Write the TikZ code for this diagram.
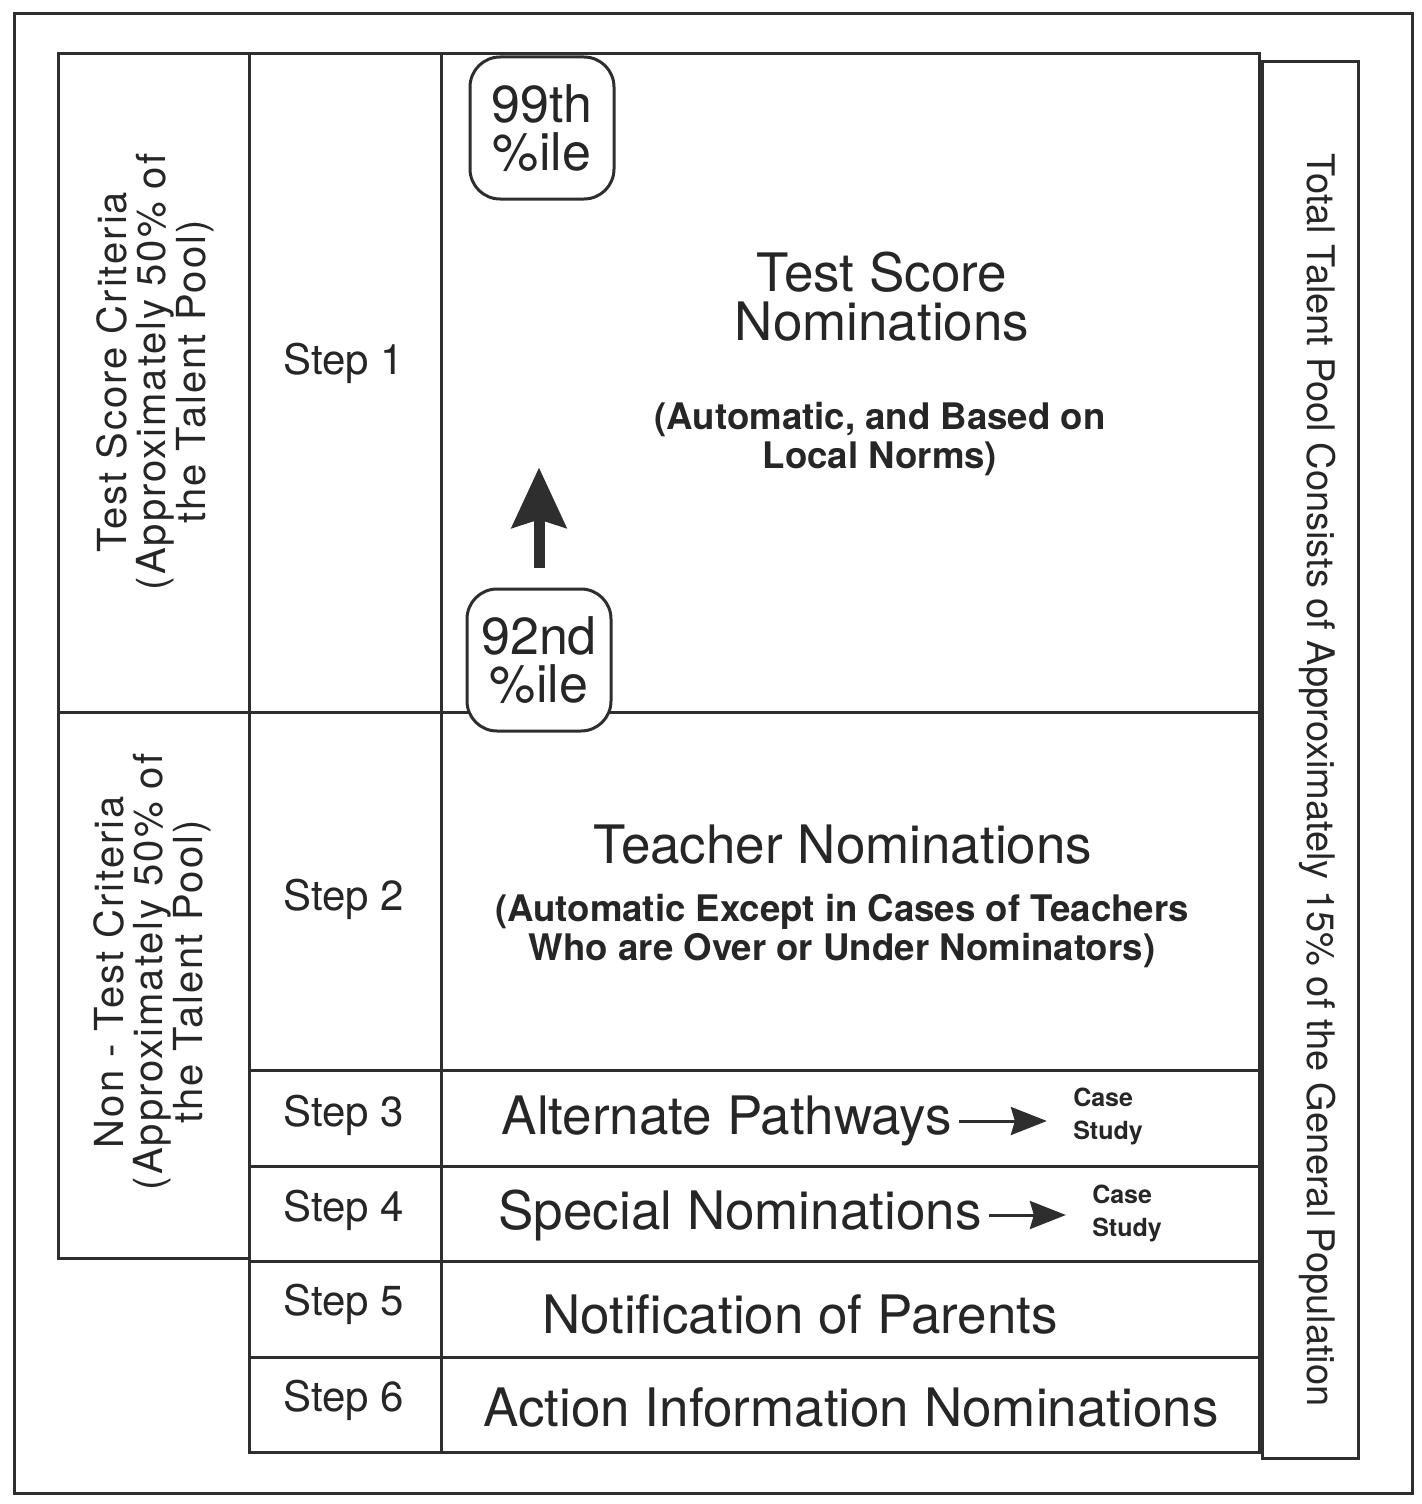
\documentclass[tikz,border=0pt]{standalone}
\usepackage{fontspec}
\setmainfont{TeX Gyre Heros}
\usetikzlibrary{arrows.meta}

\begin{document}
\begin{tikzpicture}[
  x=0.5pt, y=-0.5pt,
  frame/.style={draw=black!82, line width=1.5pt},
  steplabel/.style={text=black!85, font=\fontsize{21}{24}\selectfont},
  title/.style={text=black!85, align=center, font=\fontsize{26.5}{24.5}\selectfont},
  remark/.style={text=black!85, align=center, font=\bfseries\fontsize{18.3}{19.5}\selectfont},
  casenote/.style={text=black!85, align=left, inner sep=2pt, font=\bfseries\fontsize{12.5}{16.5}\selectfont},
  pct/.style={frame, fill=white, rounded corners=15pt, minimum width=72pt, minimum height=71pt,
    align=center, text=black!85, font=\fontsize{26}{24}\selectfont},
  side/.style={text=black!85, align=center, font=\fontsize{20}{19.8}\selectfont\addfontfeatures{LetterSpace=5}},
  uparrow/.style={-{Stealth[length=30pt, width=27pt, inset=4pt]}, line width=5.5pt, draw=black!82},
  casearrow/.style={-{Stealth[length=18pt, width=14pt, inset=2pt]}, line width=1.5pt, draw=black!82}
]
\useasboundingbox (0,0) rectangle (1421,1504);

% frame and grid
\draw[frame] (14,14) rectangle (1412,1493);
\draw[frame] (58,54) rectangle (249,1258);
\draw[frame] (58,712) -- (249,712);
\draw[frame] (249,54) rectangle (1259,1452);
\draw[frame] (441,54) -- (441,1452);
\foreach \y in {712,1070,1166,1261,1357}
  \draw[frame] (249,\y) -- (1259,\y);
\draw[frame] (1262,62) rectangle (1358,1458);

% criteria column
\node[side, rotate=90] (testcrit) at (155,372) {Test Score Criteria\\(Approximately 50\% of\\the Talent Pool)};
\node[side, rotate=90] (nontestcrit) at (152,972) {Non - Test Criteria\\(Approximately 50\% of\\the Talent Pool)};

% steps
\foreach \i/\y in {1/363,2/899,3/1115,4/1210,5/1304,6/1400}
  \node[steplabel] (step\i) at (344,\y) {Step \i};

% step 1
\node[pct] (top99) at (542,128) {99th\\\%ile};
\node[pct] (low92) at (539,660) {92nd\\\%ile};
\coordinate (arrowfoot) at ([yshift=10pt]low92.north);
\coordinate (arrowtip) at ([yshift=60pt]low92.north);
\draw[uparrow] (arrowfoot) -- (arrowtip);
\node[title] (testnom) at (882,297) {Test Score\\Nominations};
\node[remark] (testnote) at (880,439) {(Automatic, and Based on\\Local Norms)};

% step 2
\node[title] (teachnom) at (843,845) {Teacher Nominations};
\node[remark] (teachnote) at (842,931) {(Automatic Except in Cases of Teachers\\Who are Over or Under Nominators)};

% steps 3 to 6
\node[title] (altpath) at (727,1121) {Alternate Pathways};
\node[casenote] (altcase) at (1108,1116) {Case\\Study};
\draw[casearrow, shorten >=11pt] (altpath.east) -- (altcase.west |- altpath.east);
\node[title] (special) at (740,1215) {Special Nominations};
\node[casenote] (specialcase) at (1127,1213) {Case\\Study};
\draw[casearrow, shorten >=11pt] (special.east) -- (specialcase.west |- special.east);
\node[title] (notify) at (800,1314) {Notification of Parents};
\node[title] (action) at (851,1407) {Action Information Nominations};

% total pool
\node[side, rotate=-90, font=\fontsize{19}{19}\selectfont] (pooltotal) at (1318,780) {Total Talent Pool Consists of Approximately 15\% of the General Population};
\end{tikzpicture}
\end{document}
